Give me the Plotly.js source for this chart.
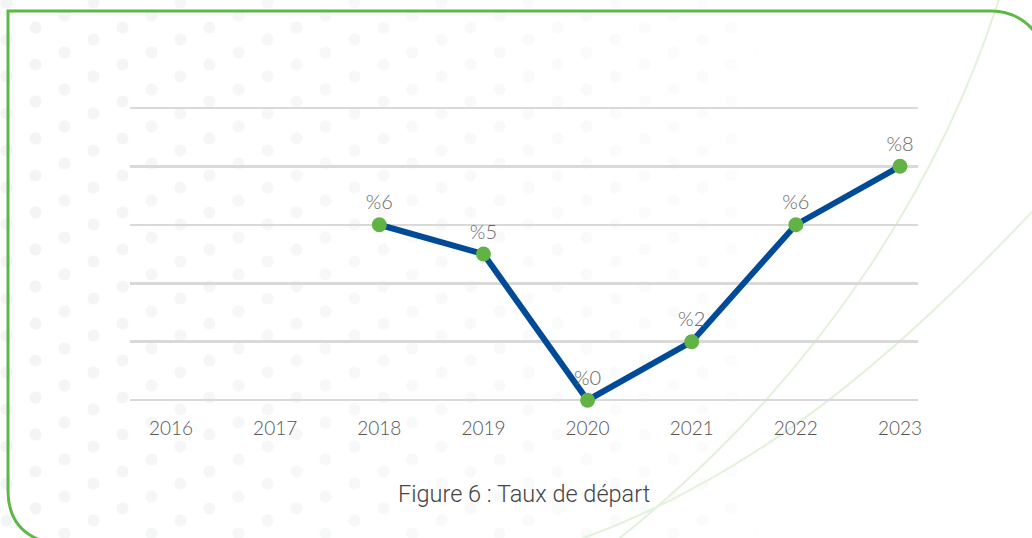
<!DOCTYPE html>
<html>
<head>
<meta charset="utf-8">
<script src="https://cdn.plot.ly/plotly-3.0.1.min.js"></script>
<style>
  html, body { margin: 0; padding: 0; background: #ffffff; }
  #wrap { position: relative; width: 1032px; height: 538px; overflow: hidden; }
  #dots {
    position: absolute; left: 0; top: 0; width: 1032px; height: 538px;
    background-image:
      radial-gradient(circle, #f3f4f5 5.5px, rgba(255,255,255,0) 6.5px),
      radial-gradient(circle, #f3f4f5 5.5px, rgba(255,255,255,0) 6.5px),
      radial-gradient(circle, #f3f4f5 5.5px, rgba(255,255,255,0) 6.5px);
    background-size: 87px 37px, 87px 37px, 87px 37px;
    background-position: 50px 21px, 79px 9px, 108px -3px;
    -webkit-mask-image: linear-gradient(to right, rgba(0,0,0,1) 0px, rgba(0,0,0,0.55) 450px, rgba(0,0,0,0.3) 745px, rgba(0,0,0,0) 760px);
    mask-image: linear-gradient(to right, rgba(0,0,0,1) 0px, rgba(0,0,0,0.55) 450px, rgba(0,0,0,0.3) 745px, rgba(0,0,0,0) 760px);
  }
  #chart { position: absolute; left: 0; top: 0; width: 1032px; height: 538px; }
</style>
</head>
<body>
<div id="wrap">
  <div id="dots"></div>
  <div id="chart"></div>
</div>
<script>
// ---- data ----
const years = ["2016", "2017", "2018", "2019", "2020", "2021", "2022", "2023"];
const rates = [null, null, 6, 5, 0, 2, 6, 8];
const rateLabels = rates.map(v => v === null ? "" : "%" + v);
const captionText = "Figure 6 : Taux de départ";

// ---- layout geometry ----
const W = 1032, H = 538;
const M = { l: 130, r: 114, t: 99, b: 129 };
const pw = W - M.l - M.r, ph = H - M.t - M.b;
function px(x) { return (x - M.l) / pw; }
function py(y) { return 1 - (y - M.t) / ph; }
function pathPx(cmds) {
  return cmds.map(c => {
    const L = c[0];
    const nums = [];
    for (let i = 1; i < c.length; i += 2) nums.push(px(c[i]).toFixed(5) + "," + py(c[i + 1]).toFixed(5));
    return L + " " + nums.join(" ");
  }).join(" ");
}

const borderPath = pathPx([
  ["M", 40, 540],
  ["Q", 8, 528, 8, 490],
  ["L", 8, 11],
  ["L", 992, 11],
  ["Q", 1024, 12, 1040, 40]
]);
const curveA = pathPx([["M", 1000, -4], ["C", 945, 170, 830, 370, 615, 542]]);
const curveB = pathPx([["M", 1048, 195], ["C", 930, 320, 780, 470, 572, 542]]);

const FONT = "Lato, 'Open Sans', sans-serif";

const trace = {
  type: "scatter",
  mode: "lines+markers+text",
  x: years,
  y: rates,
  text: rateLabels,
  textposition: "top center",
  textfont: { family: FONT, size: 20, color: "#666666", weight: 300 },
  line: { color: "#004b98", width: 6 },
  marker: { color: "#62b346", size: 15 },
  connectgaps: false,
  hoverinfo: "skip",
  cliponaxis: false
};

const layout = {
  width: W, height: H,
  margin: M,
  paper_bgcolor: "rgba(0,0,0,0)",
  plot_bgcolor: "rgba(0,0,0,0)",
  showlegend: false,
  font: { family: FONT, color: "#555555" },
  xaxis: {
    type: "category",
    categoryorder: "array",
    categoryarray: years,
    range: [-0.394, 7.173],
    showgrid: false,
    zeroline: false,
    showline: false,
    ticks: "",
    ticklabelstandoff: 6,
    tickfont: { family: FONT, size: 19, color: "#555555", weight: 300 },
    fixedrange: true
  },
  yaxis: {
    range: [-0.3, 10.3],
    tickvals: [0, 2, 4, 6, 8, 10],
    showticklabels: false,
    showgrid: true,
    gridcolor: "#d9d9d9",
    gridwidth: 2.5,
    zeroline: false,
    showline: false,
    ticks: "",
    fixedrange: true
  },
  annotations: [{
    text: captionText,
    xref: "paper", yref: "paper",
    x: px(524), y: py(494),
    xanchor: "center", yanchor: "middle",
    showarrow: false,
    font: { family: "Roboto, 'Liberation Sans', Arial, sans-serif", size: 23.5, color: "#444444", weight: 300 }
  }],
  shapes: [
    { type: "path", xref: "paper", yref: "paper", path: curveA, line: { color: "#e2f2da", width: 2 }, layer: "below" },
    { type: "path", xref: "paper", yref: "paper", path: curveB, line: { color: "#e2f2da", width: 2 }, layer: "below" },
    { type: "path", xref: "paper", yref: "paper", path: borderPath, line: { color: "#5cb946", width: 3 }, layer: "below" }
  ]
};

Plotly.newPlot("chart", [trace], layout, { displayModeBar: false, staticPlot: true });
</script>
</body>
</html>
